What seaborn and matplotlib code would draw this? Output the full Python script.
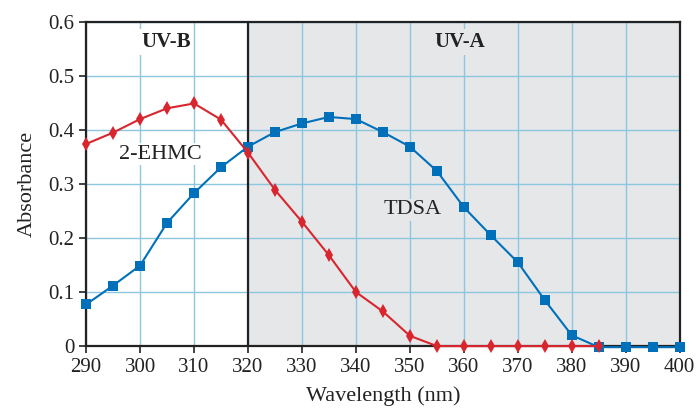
import pandas as pd
import matplotlib as mpl
mpl.use('Agg')
import matplotlib.pyplot as plt
import seaborn as sns

# wavelengths (nm) and absorbance
wl_ehmc = [290, 295, 300, 305, 310, 315, 320, 325, 330, 335, 340, 345, 350,
           355, 360, 365, 370, 375, 380, 385]
abs_ehmc = [0.374, 0.395, 0.420, 0.440, 0.449, 0.419, 0.358, 0.289, 0.230, 0.168,
            0.100, 0.064, 0.019, 0.0, 0.0, 0.0, 0.0, 0.0, 0.0, 0.0]
wl_tdsa = [290, 295, 300, 305, 310, 315, 320, 325, 330, 335, 340, 345, 350,
           355, 360, 365, 370, 375, 380, 385, 390, 395, 400]
abs_tdsa = [0.077, 0.112, 0.149, 0.228, 0.283, 0.331, 0.369, 0.396, 0.412, 0.424,
            0.420, 0.396, 0.369, 0.324, 0.257, 0.205, 0.155, 0.085, 0.020, -0.002,
            -0.002, -0.002, -0.002]

df = pd.concat([
    pd.DataFrame({"wl": wl_ehmc, "abs": abs_ehmc, "sample": "2-EHMC"}),
    pd.DataFrame({"wl": wl_tdsa, "abs": abs_tdsa, "sample": "TDSA"}),
])

sns.set_style("white")
plt.rcParams['font.family'] = ['Liberation Serif', 'DejaVu Serif']

fig = plt.figure(figsize=(7, 4.12), dpi=100)
ax = fig.add_axes([0.123, 0.160, 0.848, 0.787])

grey = "#e6e7e9"
ax.axvspan(320, 400, color=grey, zorder=0.2, lw=0)

ax = sns.lineplot(data=df, x="wl", y="abs", hue="sample", style="sample",
                  palette={"2-EHMC": "#d9262e", "TDSA": "#0070ba"},
                  markers={"2-EHMC": "d", "TDSA": "s"}, dashes=False,
                  markeredgewidth=0, linewidth=1.5,
                  legend=False, ax=ax, zorder=3)
for ln in ax.lines:
    ln.set_clip_on(False)
    if ln.get_marker() == "d":
        ln.set_markersize(7)
        ln.set_zorder(4)
    else:
        ln.set_markersize(6.5)

ax.axvline(320, color="#222222", lw=1.6, zorder=2.5)

ax.set_xlim(290, 400)
ax.set_ylim(0, 0.6)
ax.set_xticks(range(290, 401, 10))
ax.set_yticks([0, 0.1, 0.2, 0.3, 0.4, 0.5, 0.6])
ax.set_yticklabels(["0", "0.1", "0.2", "0.3", "0.4", "0.5", "0.6"])
ax.set_axisbelow(True)
ax.grid(True, color="#8cc6df", lw=1.0)

for s in ax.spines.values():
    s.set_color("#222222")
    s.set_linewidth(1.6)
ax.tick_params(axis="both", which="both", direction="out", length=5, width=1.2,
               color="#222222", labelsize=15, labelcolor="#222222", bottom=True, left=True)

ax.set_xlabel("Wavelength (nm)", fontsize=16, color="#222222", labelpad=7)
ax.set_ylabel("Absorbance", fontsize=16, color="#222222", labelpad=8)

ax.text(304.8, 0.563, "UV-B", fontsize=15, fontweight="bold", ha="center", va="center",
        color="#222222", bbox=dict(facecolor="white", edgecolor="none", pad=2), zorder=2)
ax.text(359.3, 0.563, "UV-A", fontsize=15, fontweight="bold", ha="center", va="center",
        color="#222222", bbox=dict(facecolor=grey, edgecolor="none", pad=2), zorder=2)
ax.text(303.7, 0.355, "2-EHMC", fontsize=16, ha="center", va="center",
        color="#222222", bbox=dict(facecolor="white", edgecolor="none", pad=1), zorder=2)
ax.text(350.5, 0.252, "TDSA", fontsize=16, ha="center", va="center",
        color="#222222", bbox=dict(facecolor=grey, edgecolor="none", pad=1), zorder=2)

plt.savefig("out.png", dpi=100)
